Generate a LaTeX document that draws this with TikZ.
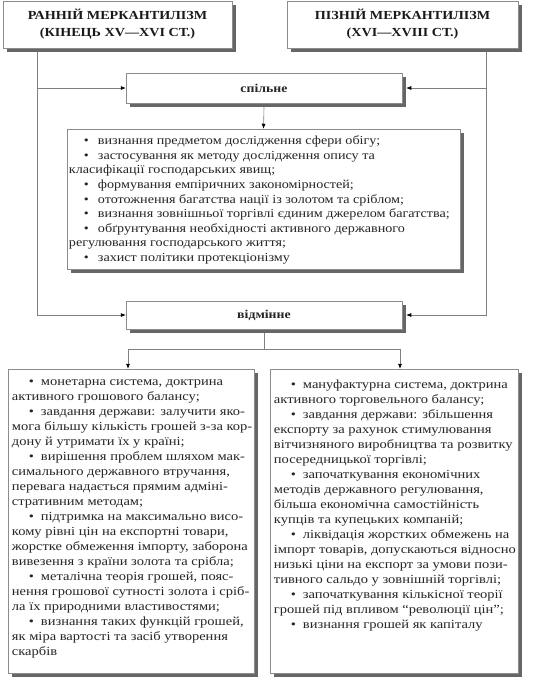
\documentclass[tikz,border=0pt]{standalone}
\usepackage{fontspec}
\setmainfont[FakeStretch=1.15]{Liberation Serif}
\newfontfamily\bodyfont[FakeStretch=1.17]{Liberation Serif}
\usetikzlibrary{arrows.meta}
\newcommand{\bitem}{\hspace*{17pt}\makebox[12pt][l]{•}}
\newcommand{\litem}{\hspace*{15pt}\makebox[14pt][l]{•}}
\tikzset{
  box/.style={draw=black!45, line width=0.5pt, fill=white, inner sep=0pt,
    preaction={fill=black!60, draw=none, transform canvas={xshift=4pt, yshift=-4pt}}},
  conn/.style={draw=black!50, line width=0.6pt},
  arr/.style={conn, -{Latex[length=5pt,width=4pt,color=black]}},
  head/.style={font=\fontsize{12.3}{17}\selectfont\bfseries, align=center, text=black!90},
  lbl/.style={font=\fontsize{12}{13}\selectfont\bfseries, text=black!85},
  body/.style={font=\bodyfont\fontsize{12.4}{15}\selectfont, align=left, text=black!85, inner sep=0pt, anchor=north west},
  lbody/.style={font=\fontsize{12.3}{14.6}\selectfont, align=left, text=black!85, inner sep=0pt, anchor=north west},
}
\begin{document}
\begin{tikzpicture}[x=1pt,y=-1pt]
\useasboundingbox (0,0) rectangle (533,678);
% header boxes
\node[box, head, minimum width=229pt, minimum height=47pt] (tl) at (117.5,24.5) {РАННІЙ МЕРКАНТИЛІЗМ\\(КІНЕЦЬ XV—XVI СТ.)};
\node[box, head, minimum width=231pt, minimum height=47pt] (tr) at (402.5,24.5) {ПІЗНІЙ МЕРКАНТИЛІЗМ\\(XVI—XVIII СТ.)};
% label boxes
\node[box, lbl, minimum width=276pt, minimum height=30pt] (sp) at (264,88) {спільне};
\node[box, lbl, minimum width=276pt, minimum height=28pt] (vid) at (264,315) {відмінне};
% common list box
\node[box, minimum width=393pt, minimum height=140pt] (lst) at (263.5,199) {};
\node[lbody] (lsttext) at ([xshift=2pt,yshift=-7pt]lst.north west) {%
\litem визнання предметом дослідження сфери обігу;\\
\litem застосування як методу дослідження опису та\\
класифікації господарських явищ;\\
\litem формування емпіричних закономірностей;\\
\litem ототожнення багатства нації із золотом та сріблом;\\
\litem визнання зовнішньої торгівлі єдиним джерелом багатства;\\
\litem обґрунтування необхідності активного державного\\
регулювання господарського життя;\\
\litem захист політики протекціонізму};
% bottom boxes
\node[box, minimum width=246pt, minimum height=304pt] (bl) at (131,521) {};
\node[box, minimum width=248pt, minimum height=304pt] (br) at (394,521) {};
\node[body] (bltext) at ([xshift=4pt,yshift=-11pt]bl.north west) {%
\bitem монетарна система, доктрина\\
активного грошового балансу;\\
\bitem завдання держави: залучити яко-\\
мога більшу кількість грошей з-за кор-\\
дону й утримати їх у країні;\\
\bitem вирішення проблем шляхом мак-\\
симального державного втручання,\\
перевага надається прямим адміні-\\
стративним методам;\\
\bitem підтримка на максимально висо-\\
кому рівні цін на експортні товари,\\
жорстке обмеження імпорту, заборона\\
вивезення з країни золота та срібла;\\
\bitem металічна теорія грошей, пояс-\\
нення грошової сутності золота і сріб-\\
ла їх природними властивостями;\\
\bitem визнання таких функцій грошей,\\
як міра вартості та засіб утворення\\
скарбів};
\node[body] (brtext) at ([xshift=4pt,yshift=-11pt]br.north west) {%
\bitem мануфактурна система, доктрина\\
активного торговельного балансу;\\
\bitem завдання держави: збільшення\\
експорту за рахунок стимулювання\\
вітчизняного виробництва та розвитку\\
посередницької торгівлі;\\
\bitem започаткування економічних\\
методів державного регулювання,\\
більша економічна самостійність\\
купців та купецьких компаній;\\
\bitem ліквідація жорстких обмежень на\\
імпорт товарів, допускаються відносно\\
низькі ціни на експорт за умови пози-\\
тивного сальдо у зовнішній торгівлі;\\
\bitem започаткування кількісної теорії\\
грошей під впливом “революції цін”;\\
\bitem визнання грошей як капіталу};
% connectors
\coordinate (lc) at (37,0);
\coordinate (rc) at (486,0);
\coordinate (al) at (128,0);
\coordinate (ar) at (400,0);
\draw[arr] ([yshift=-4pt]lc |- tl.south) -- (lc |- vid) -- (vid.west);
\draw[arr] (lc |- sp) -- (sp.west);
\draw[arr] ([yshift=-4pt]rc |- tr.south) -- (rc |- vid) -- ([xshift=4pt]vid.east);
\draw[arr] (rc |- sp) -- ([xshift=4pt]sp.east);
\draw[arr] ([yshift=-4pt]sp.south) -- (lst.north);
\draw[conn] ([yshift=-4pt]vid.south) -- (264,349) coordinate (sj);
\draw[arr] (sj) -| (al |- bl.north);
\draw[arr] (sj) -| (ar |- br.north);
\end{tikzpicture}
\end{document}
